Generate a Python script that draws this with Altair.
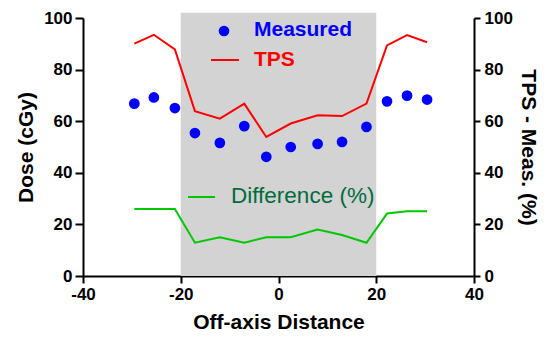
import altair as alt
import pandas as pd

# ---- data ----
positions = [-29.5, -25.5, -21.2, -17.1, -12.0, -7.0, -2.5, 2.5, 8.0, 13.0, 18.0, 22.2, 26.3, 30.4]
measured = [66.8, 69.2, 65.1, 55.4, 51.6, 58.1, 46.2, 50.0, 51.2, 52.0, 57.8, 67.7, 69.9, 68.4]
tps = [90.1, 93.5, 87.8, 63.9, 61.0, 66.8, 53.9, 59.1, 62.3, 62.0, 66.8, 89.4, 93.4, 90.6]
difference = [26.0, 26.0, 26.0, 12.9, 15.0, 12.9, 15.0, 15.0, 18.0, 15.9, 12.9, 24.2, 25.1, 25.1]
field_edges = [-20, 20]
field_top = 102
x_ticks = [-40, -20, 0, 20, 40]
y_ticks = [0, 20, 40, 60, 80, 100]

df = pd.DataFrame({"x": positions, "Measured": measured, "TPS": tps, "Difference": difference})
field = pd.DataFrame({"x": [field_edges[0]], "x2": [field_edges[1]], "y": [0], "y2": [field_top]})

FONT = "Liberation Sans"
BLUE = "#0000ff"
RED = "#ff0000"
GREEN = "#00c800"
GREEN_TXT = "#006b3c"
HYPHEN = "datum.value < 0 ? '-' + abs(datum.value) : '' + datum.value"

xscale = alt.Scale(domain=[-40, 40], nice=False, zero=False)
yscale = alt.Scale(domain=[0, 100], nice=False)

xaxis = alt.Axis(values=x_ticks, title="Off-axis Distance", grid=False, labelExpr=HYPHEN,
                 tickSize=7, labelPadding=3, titlePadding=9)
yaxis_left = alt.Axis(values=y_ticks, title="Dose (cGy)", grid=False, orient="left",
                      tickSize=8, labelPadding=3, titlePadding=7)
yaxis_right = alt.Axis(values=y_ticks, title="TPS - Meas. (%)", grid=False, orient="right",
                       titleAngle=90, tickSize=6, labelPadding=4, titlePadding=5)

rect = alt.Chart(field).mark_rect(color="#d3d3d3").encode(
    x=alt.X("x:Q", scale=xscale, axis=xaxis),
    x2="x2:Q",
    y=alt.Y("y:Q", scale=yscale, axis=yaxis_left),
    y2="y2:Q",
)

tps_line = alt.Chart(df).mark_line(color=RED, strokeWidth=2).encode(
    x=alt.X("x:Q", scale=xscale),
    y=alt.Y("TPS:Q", scale=yscale),
)

meas_pts = alt.Chart(df).mark_circle(color=BLUE, size=115, opacity=1).encode(
    x=alt.X("x:Q", scale=xscale),
    y=alt.Y("Measured:Q", scale=yscale),
)

left = alt.layer(rect, tps_line, meas_pts)

diff_line = alt.Chart(df).mark_line(color=GREEN, strokeWidth=2).encode(
    x=alt.X("x:Q", scale=xscale),
    y=alt.Y("Difference:Q", scale=yscale, axis=yaxis_right),
)

# ---- in-plot legend ----
leg_df = pd.DataFrame({"k": [0]})
base = alt.Chart(leg_df)
leg_dot = base.mark_circle(color=BLUE, size=115, opacity=1).encode(
    x=alt.value(141), y=alt.value(13))
leg_meas = base.mark_text(text="Measured", color=BLUE, font=FONT, fontWeight="bold", fontSize=21,
                          align="left", baseline="middle").encode(x=alt.value(171), y=alt.value(12))
leg_tps_line = base.mark_rule(color=RED, strokeWidth=2).encode(
    x=alt.value(128), x2=alt.value(156), y=alt.value(42))
leg_tps = base.mark_text(text="TPS", color=RED, font=FONT, fontWeight="bold", fontSize=21,
                         align="left", baseline="middle").encode(x=alt.value(171), y=alt.value(42))
leg_diff_line = base.mark_rule(color=GREEN, strokeWidth=2).encode(
    x=alt.value(105), x2=alt.value(132), y=alt.value(179))
leg_diff = base.mark_text(text="Difference (%)", color=GREEN_TXT, font=FONT, fontSize=22.5,
                          align="left", baseline="middle").encode(x=alt.value(148), y=alt.value(178))

chart = alt.layer(
    left, diff_line, leg_dot, leg_meas, leg_tps_line, leg_tps, leg_diff_line, leg_diff
).resolve_scale(y="independent").properties(
    width=391, height=258,
    autosize=alt.AutoSizeParams(type="none"),
    padding={"left": 75, "top": 10, "right": 66, "bottom": 56},
).configure_view(stroke=None).configure_axis(
    domainColor="black", domainWidth=2, tickColor="black", tickWidth=2,
    labelFont=FONT, labelFontWeight="bold", labelFontSize=17, labelColor="black",
    titleFont=FONT, titleFontWeight="bold", titleFontSize=21, titleColor="black",
    labelFlush=False,
)

chart.save("out.html", embed_options={"renderer": "svg", "actions": False})
